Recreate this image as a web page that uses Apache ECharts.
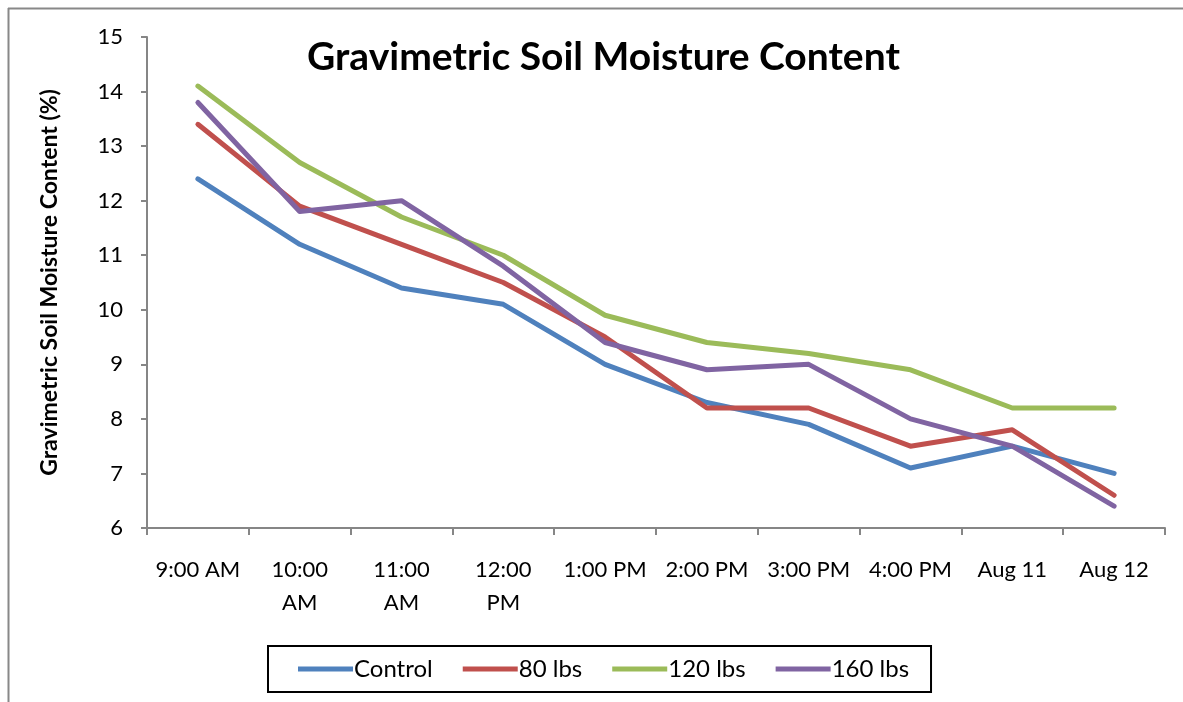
<!DOCTYPE html>
<html>
<head>
<meta charset="utf-8">
<script src="https://cdn.jsdelivr.net/npm/echarts@6/dist/echarts.min.js"></script>
<style>
html,body{margin:0;padding:0;background:#fff;}
#chart{width:1183px;height:702px;}
</style>
</head>
<body>
<div id="chart"></div>
<script>
var categories = ["9:00 AM","10:00 AM","11:00 AM","12:00 PM","1:00 PM","2:00 PM","3:00 PM","4:00 PM","Aug 11","Aug 12"];
var seriesNames = ["Control","80 lbs","120 lbs","160 lbs"];
var control = [12.4, 11.2, 10.4, 10.1, 9.0, 8.3, 7.9, 7.1, 7.5, 7.0];
var lbs80   = [13.4, 11.9, 11.2, 10.5, 9.5, 8.2, 8.2, 7.5, 7.8, 6.6];
var lbs120  = [14.1, 12.7, 11.7, 11.0, 9.9, 9.4, 9.2, 8.9, 8.2, 8.2];
var lbs160  = [13.8, 11.8, 12.0, 10.8, 9.4, 8.9, 9.0, 8.0, 7.5, 6.4];
var seriesData = [control, lbs80, lbs120, lbs160];
var colors = ["#4F81BD","#C0504D","#9BBB59","#8064A2"];
var FONT = "Lato, 'Liberation Sans', sans-serif";

var chart = echarts.init(document.getElementById('chart'));
var option = {
  animation: false,
  backgroundColor: '#ffffff',
  title: {
    text: 'Gravimetric Soil Moisture Content',
    left: 302,
    top: 33,
    textStyle: {fontFamily: FONT, fontSize: 39, fontWeight: 'bold', color: '#000'}
  },
  grid: {left: 147, top: 37, right: 18, bottom: 174, containLabel: false},
  legend: {
    data: seriesNames,
    left: 268,
    top: 646,
    orient: 'horizontal',
    icon: 'rect',
    itemWidth: 55,
    itemHeight: 5,
    itemGap: 30,
    padding: [11, 22, 11, 30],
    borderColor: '#000',
    borderWidth: 2,
    textStyle: {fontFamily: FONT, fontSize: 24, color: '#000', padding: [0,0,0,-4]}
  },
  xAxis: {
    type: 'category',
    data: categories,
    boundaryGap: true,
    axisLine: {lineStyle: {color: '#868686', width: 2}},
    axisTick: {show: true, length: 7, inside: false, lineStyle: {color: '#868686', width: 2}},
    axisLabel: {
      interval: 0,
      margin: 25,
      fontFamily: FONT,
      fontSize: 22,
      color: '#000',
      lineHeight: 33,
      formatter: function (v) { return /^\d\d:/.test(v) ? v.replace(' ', '\n') : v; }
    },
    splitLine: {show: false}
  },
  yAxis: {
    type: 'value',
    min: 6,
    max: 15,
    interval: 1,
    name: 'Gravimetric Soil Moisture Content (%)',
    nameLocation: 'middle',
    nameGap: 86,
    nameRotate: 90,
    nameTextStyle: {fontFamily: FONT, fontSize: 23, fontWeight: 'bold', color: '#000'},
    axisLine: {show: true, lineStyle: {color: '#868686', width: 2}},
    axisTick: {show: true, length: 6, lineStyle: {color: '#868686', width: 2}},
    axisLabel: {margin: 24, fontFamily: FONT, fontSize: 22, color: '#000'},
    splitLine: {show: false}
  },
  series: seriesNames.map(function (n, i) {
    return {
      name: n,
      type: 'line',
      data: seriesData[i],
      showSymbol: false,
      symbol: 'none',
      color: colors[i],
      lineStyle: {width: 5, color: colors[i], cap: 'round', join: 'round'}
    };
  }),
  graphic: [
    {type: 'line', shape: {x1: 8.5, y1: 8, x2: 8.5, y2: 702}, style: {stroke: '#888', lineWidth: 2}},
    {type: 'line', shape: {x1: 8, y1: 8.5, x2: 1183, y2: 8.5}, style: {stroke: '#888', lineWidth: 2}}
  ]
};
chart.setOption(option);
</script>
</body>
</html>
